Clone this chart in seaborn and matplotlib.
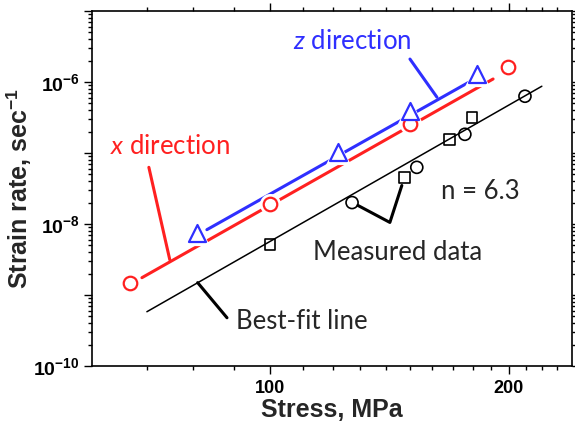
import numpy as np
import matplotlib.pyplot as plt
from matplotlib.ticker import FixedLocator, FixedFormatter, LogLocator, NullFormatter
import seaborn as sns

sns.set_style("ticks")
plt.rcParams['font.family'] = ['Liberation Sans', 'DejaVu Sans']
plt.rcParams['mathtext.fontset'] = 'custom'
plt.rcParams['mathtext.bf'] = 'Liberation Sans:bold'
plt.rcParams['mathtext.rm'] = 'Lato'
plt.rcParams['mathtext.it'] = 'Lato:italic'

# x direction (red circles)
x_dir_stress = [66.6, 100, 150.1, 199.4]
x_dir_rate = [1.49e-9, 1.88e-8, 2.54e-7, 1.62e-6]
# z direction (blue triangles)
z_dir_stress = [80.9, 121.8, 150.1, 182.3]
z_dir_rate = [7.57e-9, 1.02e-7, 3.87e-7, 1.29e-6]
# measured data (black)
circ_stress = [126.9, 153.1, 176.0, 209.5]
circ_rate = [2.0e-8, 6.27e-8, 1.83e-7, 6.29e-7]
sq_stress = [100, 147.9, 168.5, 179.7]
sq_rate = [5.12e-9, 4.52e-8, 1.56e-7, 3.18e-7]
# fitted lines, end points
red_fit_stress = [69, 191]
red_fit_rate = [1.75e-9, 1.1e-6]
blue_fit_stress = [83.3, 182.8]
blue_fit_rate = [8.3e-9, 1.17e-6]
best_fit_stress = [70, 220]
best_fit_rate = [5.8e-10, 8.7e-7]

RED = '#ff2020'
BLUE = '#2f2fff'
GREY = '#262626'

fig = plt.figure(figsize=(5.75, 4.29), dpi=100)
ax = fig.add_axes([0.160, 0.147, 0.835, 0.8275])
ax.set_xscale('log')
ax.set_yscale('log')

# lines
sns.lineplot(x=best_fit_stress, y=best_fit_rate, color='black', lw=1.1, ax=ax, zorder=2)
sns.lineplot(x=red_fit_stress, y=red_fit_rate, color=RED, lw=2.2, ax=ax, zorder=2)
sns.lineplot(x=blue_fit_stress, y=blue_fit_rate, color=BLUE, lw=2.2, ax=ax, zorder=2)

# white halos so the coloured lines break around the markers
sns.scatterplot(x=x_dir_stress, y=x_dir_rate, marker='o', s=230, color='white',
                edgecolor='white', linewidth=0, ax=ax, zorder=3)
sns.scatterplot(x=z_dir_stress, y=z_dir_rate, marker='^', s=330, color='white',
                edgecolor='white', linewidth=0, ax=ax, zorder=3)

# markers
sns.scatterplot(x=x_dir_stress, y=x_dir_rate, marker='o', s=95, color='white',
                edgecolor=RED, linewidth=1.6, ax=ax, zorder=4)
sns.scatterplot(x=z_dir_stress, y=z_dir_rate, marker='^', s=150, color='white',
                edgecolor=BLUE, linewidth=1.6, ax=ax, zorder=4)
sns.scatterplot(x=circ_stress, y=circ_rate, marker='o', s=75, color='none',
                edgecolor='black', linewidth=1.2, ax=ax, zorder=4)
sns.scatterplot(x=sq_stress, y=sq_rate, marker='s', s=60, color='none',
                edgecolor='black', linewidth=1.2, ax=ax, zorder=4)

# annotations
note_font = ['Lato', 'DejaVu Sans']
ax.text(126.9, 3.77e-6, r'$\mathit{z}$ direction', color=BLUE, fontsize=18.5,
        family=note_font, ha='center', va='center')
ax.plot([150.1, 162.3], [2.1e-6, 6.1e-7], color=BLUE, lw=2.2, zorder=2)

ax.text(74.8, 1.24e-7, r'$\mathit{x}$ direction', color=RED, fontsize=18.5,
        family=note_font, ha='center', va='center')
ax.plot([70.4, 74.8], [6.27e-8, 3.14e-9], color=RED, lw=2.2, zorder=2)

ax.text(183.9, 2.87e-8, 'n = 6.3', color=GREY, fontsize=18.5,
        family=note_font, ha='center', va='center')

ax.text(145.0, 3.94e-9, 'Measured data', color=GREY, fontsize=18.5,
        family=note_font, ha='center', va='center')
ax.plot([129.1, 141.6, 146.6], [1.82e-8, 1.05e-8, 3.48e-8], color='black',
        lw=2.2, zorder=2)

ax.text(109.7, 4.18e-10, 'Best-fit line', color=GREY, fontsize=18.5,
        family=note_font, ha='center', va='center')
ax.plot([81.1, 88.3], [1.49e-9, 4.77e-10], color='black', lw=2.2, zorder=2)

# axes
ax.set_xlim(59.7, 240.2)
ax.set_ylim(1e-10, 1e-5)

ax.xaxis.set_major_locator(FixedLocator([100, 200]))
ax.xaxis.set_major_formatter(FixedFormatter(['100', '200']))
x_minor = [70, 80, 90, 110, 120, 130, 140, 150, 160, 170, 180, 190, 210, 220, 230]
ax.xaxis.set_minor_locator(FixedLocator(x_minor))
ax.xaxis.set_minor_formatter(NullFormatter())

y_major = [1e-10, 1e-9, 1e-8, 1e-7, 1e-6, 1e-5]
y_labels = [r'$\mathbf{10^{-10}}$', '', r'$\mathbf{10^{-8}}$', '',
            r'$\mathbf{10^{-6}}$', '']
ax.yaxis.set_major_locator(FixedLocator(y_major))
ax.yaxis.set_major_formatter(FixedFormatter(y_labels))
ax.yaxis.set_minor_locator(LogLocator(base=10, subs=np.arange(2, 10), numticks=20))
ax.yaxis.set_minor_formatter(NullFormatter())

ax.tick_params(which='both', direction='out', top=True, right=True,
               colors='black', width=1.0)
ax.tick_params(which='major', length=6)
ax.tick_params(which='minor', length=3)
ax.tick_params(axis='x', labelsize=13, pad=4)
ax.tick_params(axis='y', labelsize=14, pad=3)
for lab in ax.get_xticklabels():
    lab.set_fontweight('bold')

for sp in ax.spines.values():
    sp.set_color('black')
    sp.set_linewidth(1.2)

ax.set_xlabel('Stress, MPa', fontsize=18, fontweight='bold')
ax.set_ylabel(r'Strain rate, sec$^{\mathbf{-1}}$', fontsize=18, fontweight='bold')
ax.xaxis.set_label_coords(0.5, -0.09)
ax.yaxis.set_label_coords(-0.12, 0.5)

fig.savefig('out.png', dpi=100)
